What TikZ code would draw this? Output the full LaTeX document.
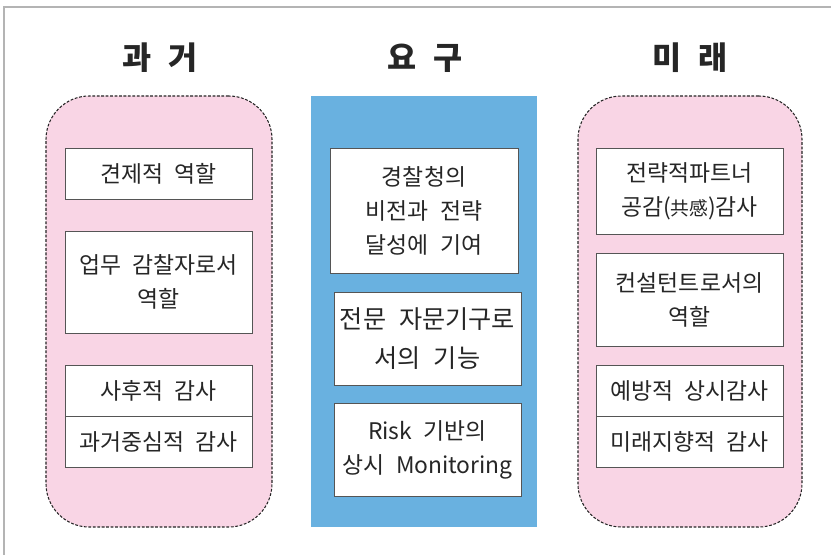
\documentclass[tikz,border=0pt]{standalone}
\usepackage{fontspec}
\setmainfont{Noto Sans CJK KR}[WordSpace=2.3]
\usepackage{tikz}
\definecolor{pinkbg}{HTML}{F9D5E5}
\definecolor{bluebg}{HTML}{69B1E0}
\definecolor{edge}{HTML}{555555}
\definecolor{frame}{HTML}{B4B4B4}

\begin{document}
\begin{tikzpicture}[x=0.03cm, y=-0.03cm,
    title/.style={font=\fontsize{27}{30}\selectfont\bfseries, text=black!85},
    panel/.style={draw=black!85, dash pattern=on 2.4pt off 1.4pt, line width=0.9pt,
                  fill=pinkbg, rounded corners=1.3cm, minimum width=#1, minimum height=12.93cm,
                  inner sep=0pt, outer sep=0pt},
    box/.style={draw=edge, line width=0.8pt, fill=white, align=center, inner sep=0pt,
                outer sep=0pt, minimum width=5.61cm, text=black!85,
                font=\fontsize{19.5}{29}\selectfont}]
            \useasboundingbox (0,0) rectangle (831,555);
            \draw[frame, line width=1pt] (4,555) -- (4,7) -- (831,7);
            % titles
            \node[title] (tPast) at (160,58) {과 거};
            \node[title] (tNeed) at (425,58) {요 구};
            \node[title] (tFut) at (690,58) {미 래};
            % panels
            \node[panel=6.78cm] (past) at (159,311.5) {};
            \node[fill=bluebg, minimum width=6.78cm, minimum height=12.93cm, inner sep=0pt] (need) at (424,311.5) {};
            \node[panel=6.72cm] (fut) at (690,311.5) {};
            % past
            \node[box, minimum height=1.53cm] (p1) at (158.5,173.5) {견제적 역할};
            \node[box, minimum height=3.06cm] (p2) at (158.5,282) {업무 감찰자로서\\역할};
            \node[box, minimum height=1.53cm] (p3) at (158.5,390.5) {사후적 감사};
            \node[box, minimum height=1.53cm] (p4) at (158.5,441.5) {과거중심적 감사};
            % need
            \node[box, minimum width=5.64cm, minimum height=3.75cm] (n1) at (424,210.5) {경찰청의\\비전과 전략\\달성에 기여};
            \node[box, minimum height=2.79cm, font=\fontsize{21.5}{33}\selectfont] (n2) at (427.5,338.5) {전문 자문기구로\\서의 기능};
            \node[box, minimum height=2.79cm] (n3) at (427.5,449.5) {Risk 기반의\\상시 Monitoring};
            % future
            \node[box, minimum height=2.58cm] (f1) at (689.5,191) {전략적파트너\\공감({\fontsize{16}{16}\selectfont 共感})감사};
            \node[box, minimum height=2.79cm] (f2) at (689.5,299.5) {컨설턴트로서의\\역할};
            \node[box, minimum height=1.53cm] (f3) at (689.5,390.5) {예방적 상시감사};
            \node[box, minimum height=1.53cm] (f4) at (689.5,441.5) {미래지향적 감사};
        \end{tikzpicture}
\end{document}
